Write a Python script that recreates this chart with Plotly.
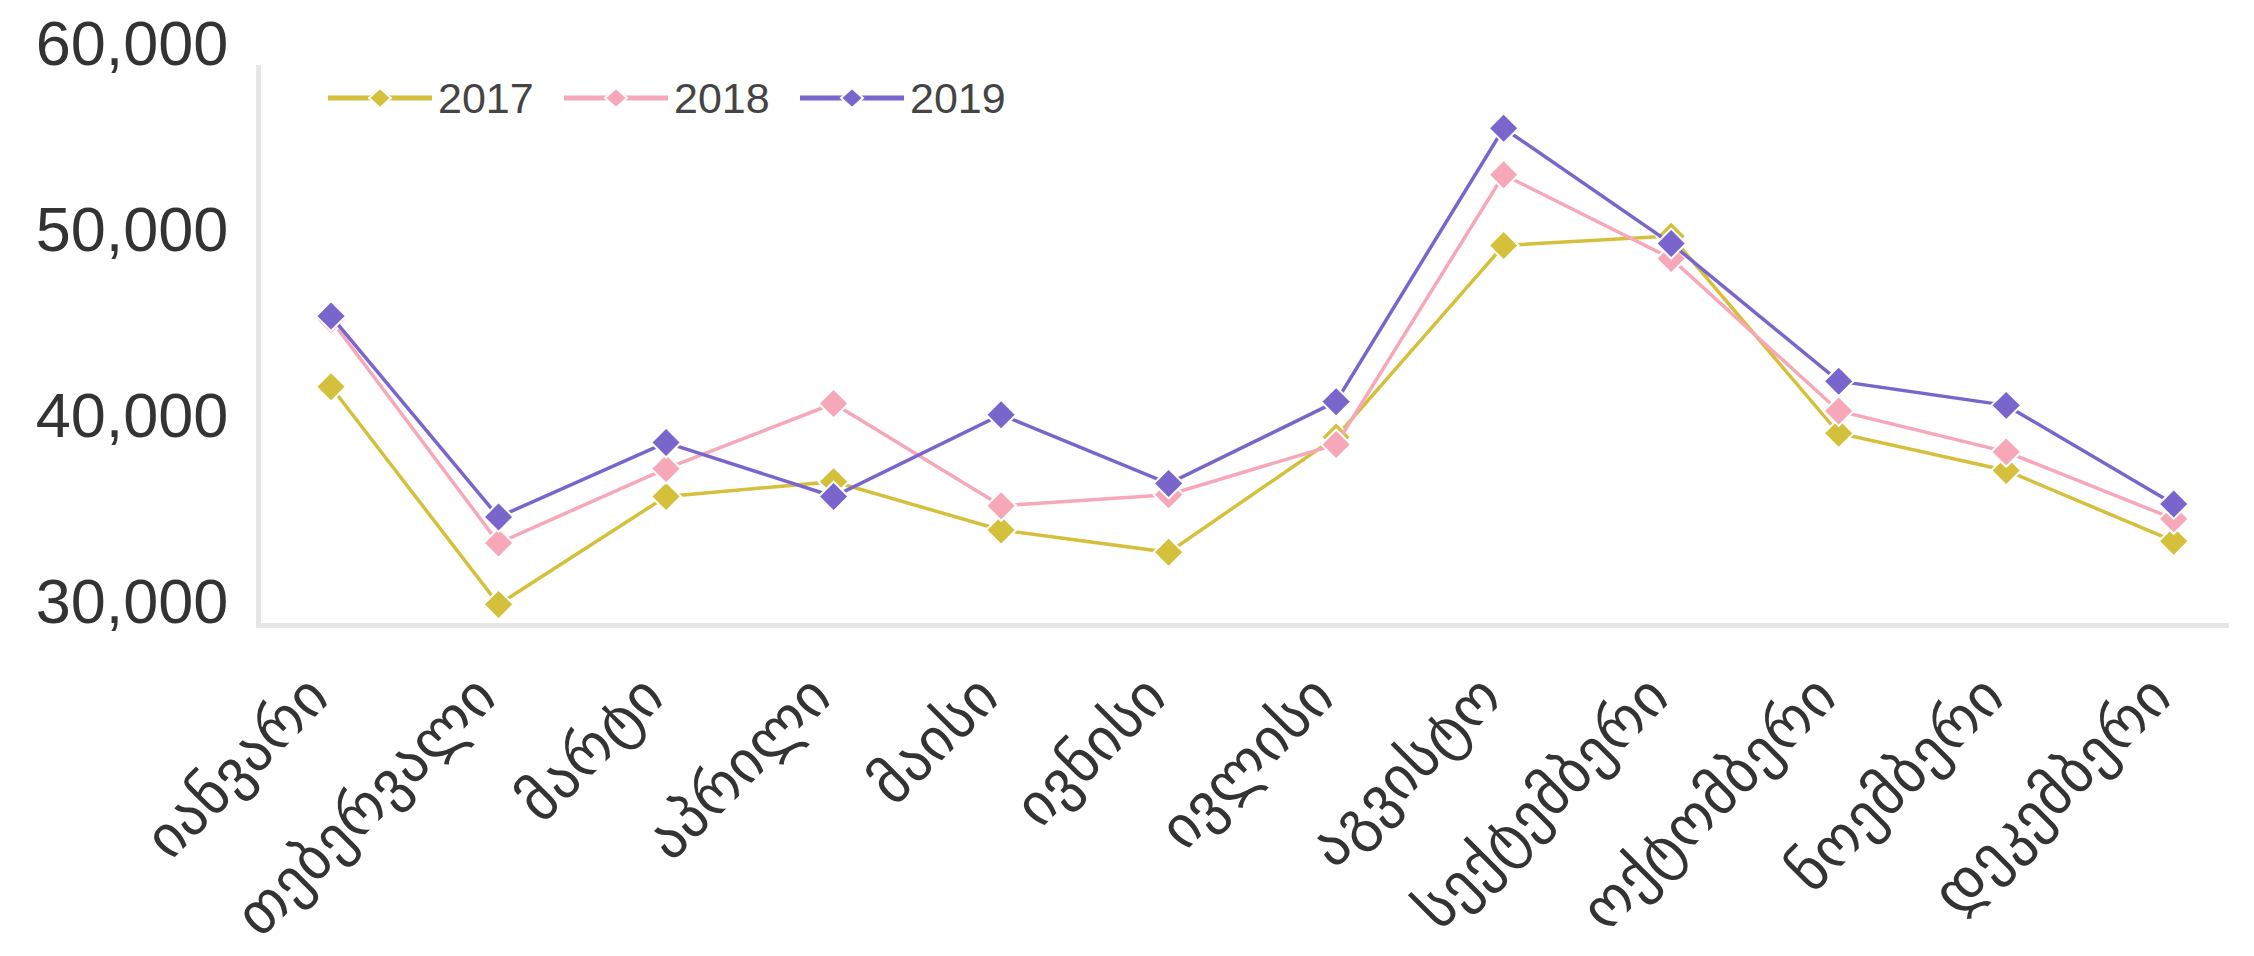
import plotly.graph_objects as go

months = ["იანვარი", "თებერვალი", "მარტი", "აპრილი", "მაისი", "ივნისი",
          "ივლისი", "აგვისტო", "სექტემბერი", "ოქტომბერი", "ნოემბერი", "დეკემბერი"]
v2017 = [42700, 31000, 36800, 37600, 35000, 33800, 40000, 50300, 50800, 40200, 38200, 34400]
v2018 = [46300, 34300, 38300, 41800, 36300, 36900, 39600, 54100, 49600, 41400, 39200, 35600]
v2019 = [46500, 35700, 39700, 36800, 41200, 37500, 41900, 56600, 50400, 43000, 41700, 36400]
years = ["2017", "2018", "2019"]
colors = ["#D4C03A", "#F7A8B8", "#7A65CD"]
yticks = [30000, 40000, 50000, 60000]

# the page body has an 8px margin, so the figure is a bit smaller than the window
W, H = 2238, 940
L, R, T, B = 253, 17, 57, 325
pw, ph = W - L - R, H - T - B

fig = go.Figure()
for name, vals, c in zip(years, [v2017, v2018, v2019], colors):
    fig.add_trace(go.Scatter(
        x=months, y=vals, name=name, mode="lines+markers",
        line=dict(color=c, width=3.5),
        marker=dict(symbol="diamond", size=23, color=c, line=dict(color="white", width=2)),
        showlegend=False,
    ))

# hand-made legend (long line with a diamond in the middle), positions in figure px
def px_x(p):
    return (p - L) / pw

def px_y(p):
    return (H - B - p) / ph

shapes = []
annotations = []
for i, (name, c) in enumerate(zip(years, colors)):
    x0 = 320 + 236 * i
    ly = 90
    shapes.append(dict(type="line", xref="paper", yref="paper",
                       x0=px_x(x0), x1=px_x(x0 + 104), y0=px_y(ly), y1=px_y(ly),
                       line=dict(color=c, width=5)))
    cx = x0 + 52
    shapes.append(dict(type="path", xref="paper", yref="paper",
                       path="M {a},{b} L {c},{d} L {e},{b} L {c},{f} Z".format(
                           a=px_x(cx - 11), b=px_y(ly), c=px_x(cx),
                           d=px_y(ly - 10), e=px_x(cx + 11), f=px_y(ly + 10)),
                       fillcolor=c, line=dict(color="white", width=2)))
    annotations.append(dict(xref="paper", yref="paper", x=px_x(x0 + 108), y=px_y(ly),
                            xanchor="left", yanchor="middle", showarrow=False, text=name,
                            font=dict(size=43, color="#444444",
                                      family="Liberation Sans, Arial, sans-serif")))

fig.update_layout(
    width=W, height=H, autosize=False,
    margin=dict(l=L, r=R, t=T, b=B, autoexpand=False),
    plot_bgcolor="white", paper_bgcolor="white",
    shapes=shapes, annotations=annotations,
    font=dict(family="Liberation Sans, DejaVu Sans, sans-serif", color="#333333"),
)
fig.update_xaxes(
    type="category", range=[-0.418, 11.33], automargin=False,
    showgrid=False, zeroline=False,
    showline=True, linecolor="#E6E6E6", linewidth=5,
    ticks="", ticklabelstandoff=10, ticklabelshift=-20,
    tickangle=-45,
    tickfont=dict(size=59, color="#333333", family="DejaVu Sans, sans-serif"),
)
fig.update_yaxes(
    range=[30000, 60000], tickvals=yticks, tickformat=",", automargin=False,
    showgrid=False, zeroline=False,
    showline=True, linecolor="#E6E6E6", linewidth=5,
    ticks="", ticklabelposition="outside", ticklabeloverflow="allow",
    ticklabelshift=-22, ticklabelstandoff=15,
    tickfont=dict(size=63, color="#333333", family="Liberation Sans, Arial, sans-serif"),
)

fig.write_html("out.html")
